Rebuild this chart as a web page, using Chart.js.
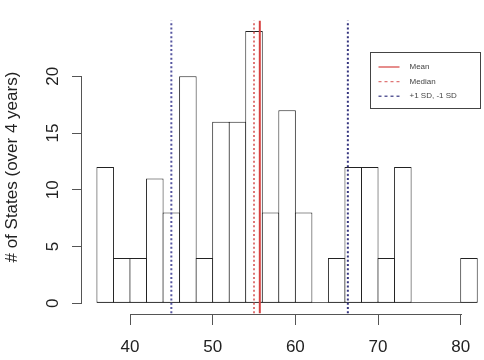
<!DOCTYPE html>
<html>
<head>
<meta charset="utf-8">
<script src="https://cdn.jsdelivr.net/npm/chart.js@4.4.0/dist/chart.umd.min.js"></script>
<style>
  html, body { margin: 0; padding: 0; background: #fff; }
</style>
</head>
<body>
<canvas id="hist" width="484" height="360"></canvas>
<script>
// histogram bins (left edges, width 2) and counts
const binStarts = [36, 38, 40, 42, 44, 46, 48, 50, 52, 54, 56, 58, 60, 62, 64, 66, 68, 70, 72, 74, 76, 78, 80];
const counts = [12, 4, 4, 11, 8, 20, 4, 16, 16, 24, 8, 17, 8, 0, 4, 12, 12, 4, 12, 0, 0, 0, 4];
const binWidth = 2;

const xTicks = [40, 50, 60, 70, 80];
const yTicks = [0, 5, 10, 15, 20];

const meanValue = 55.7;
const medianValue = 55.0;
const sdValues = [45.0, 66.35];

const legendLabels = ['Mean', 'Median', '+1 SD, -1 SD'];

const FONT = "'Liberation Sans', Arial, sans-serif";
const lineSpan = [-0.88, 24.9]; // vertical reference lines run over the plot region

const vline = v => lineSpan.map(y => ({ x: v, y: y }));

const extras = {
	id: 'extras',
	beforeDatasetsDraw(chart) {
		const { ctx, scales: { x, y } } = chart;
		ctx.save();
		ctx.strokeStyle = '#666';
		ctx.lineWidth = 1;
		const y0 = Math.round(y.getPixelForValue(0)) - 0.5;
		ctx.beginPath();
		ctx.moveTo(x.getPixelForValue(binStarts[0]), y0);
		ctx.lineTo(x.getPixelForValue(binStarts[binStarts.length - 1] + binWidth), y0);
		ctx.stroke();
		ctx.restore();
	},
	afterDraw(chart) {
		const { ctx, chartArea, scales: { x, y } } = chart;
		ctx.save();
		// R style axes: line only between first and last tick
		ctx.strokeStyle = '#555';
		ctx.lineWidth = 1;
		const yb = chartArea.bottom - 0.5;
		ctx.beginPath();
		ctx.moveTo(Math.round(x.getPixelForValue(xTicks[0])), yb);
		ctx.lineTo(Math.round(x.getPixelForValue(xTicks[xTicks.length - 1])) + 1, yb);
		ctx.stroke();
		const xl = chartArea.left - 0.5;
		ctx.beginPath();
		ctx.moveTo(xl, Math.round(y.getPixelForValue(yTicks[0])));
		ctx.lineTo(xl, Math.round(y.getPixelForValue(yTicks[yTicks.length - 1])));
		ctx.stroke();

		// legend box
		const bx = 370.5, by = 52.5, bw = 110, bh = 56;
		ctx.fillStyle = '#fff';
		ctx.fillRect(bx, by, bw, bh);
		ctx.strokeStyle = '#444';
		ctx.strokeRect(bx, by, bw, bh);
		const ds = chart.data.datasets;
		const samples = [ds[0], ds[1], ds[2]];
		ctx.font = '8px ' + FONT;
		ctx.textBaseline = 'middle';
		samples.forEach((d, i) => {
			const ly = by + 14.5 + i * 14.6;
			ctx.strokeStyle = d.borderColor;
			ctx.lineWidth = 1.2;
			ctx.setLineDash(d.borderDash ? [3, 3] : []);
			ctx.beginPath();
			ctx.moveTo(bx + 8, ly);
			ctx.lineTo(bx + 29, ly);
			ctx.stroke();
			ctx.setLineDash([]);
			ctx.fillStyle = '#444';
			ctx.fillText(legendLabels[i], bx + 39, ly);
		});
		ctx.restore();
	}
};

new Chart(document.getElementById('hist'), {
	type: 'bar',
	data: {
		datasets: [
			{
				label: 'Mean', type: 'line', data: vline(meanValue),
				borderColor: '#d6403f', borderWidth: 2, pointRadius: 0, order: 0,
			},
			{
				label: 'Median', type: 'line', data: vline(medianValue),
				borderColor: '#e07676', borderWidth: 2, borderDash: [2, 2.3], pointRadius: 0, order: 0,
			},
			{
				label: '+1 SD', type: 'line', data: vline(sdValues[1]),
				borderColor: '#35357f', borderWidth: 2, borderDash: [2, 2.3], pointRadius: 0, order: 0,
			},
			{
				label: '-1 SD', type: 'line', data: vline(sdValues[0]),
				borderColor: '#5656a0', borderWidth: 2, borderDash: [2, 2.3], pointRadius: 0, order: 0,
			},
			{
				label: 'States',
				data: binStarts.map((s, i) => ({ x: s + binWidth / 2, y: counts[i] })),
				backgroundColor: '#fff',
				borderColor: '#222',
				borderWidth: 1,
				borderSkipped: false,
				barPercentage: 1.06,
				categoryPercentage: 1,
				order: 1,
			},
		],
	},
	options: {
		responsive: false,
		animation: false,
		layout: { padding: { top: 18, right: 4, left: 0, bottom: 0 } },
		plugins: {
			legend: { display: false },
			tooltip: { enabled: false },
		},
		scales: {
			x: {
				type: 'linear',
				min: 34.194,
				max: 82.334,
				offset: false,
				grid: { offset: false, drawOnChartArea: false, tickLength: 10, color: '#555' },
				border: { display: false },
				ticks: { font: { size: 17, family: FONT }, color: '#222', padding: 12, maxRotation: 0, autoSkip: false },
				afterBuildTicks: s => { s.ticks = xTicks.map(v => ({ value: v })); },
				afterFit: s => { s.height = 45; },
			},
			y: {
				type: 'linear',
				min: -1.026,
				max: 25.03,
				grid: { drawOnChartArea: false, tickLength: 10, color: '#555' },
				border: { display: false },
				ticks: { font: { size: 17, family: FONT }, color: '#222', padding: 9, minRotation: 90, maxRotation: 90, crossAlign: 'center' },
				afterBuildTicks: s => { s.ticks = yTicks.map(v => ({ value: v })); },
				afterFit: s => { s.width = 82; },
				title: {
					display: true,
					text: '# of States (over 4 years)',
					font: { size: 17, family: FONT },
					color: '#222',
					padding: { top: 2, bottom: 0 },
				},
			},
		},
	},
	plugins: [extras],
});
</script>
</body>
</html>
